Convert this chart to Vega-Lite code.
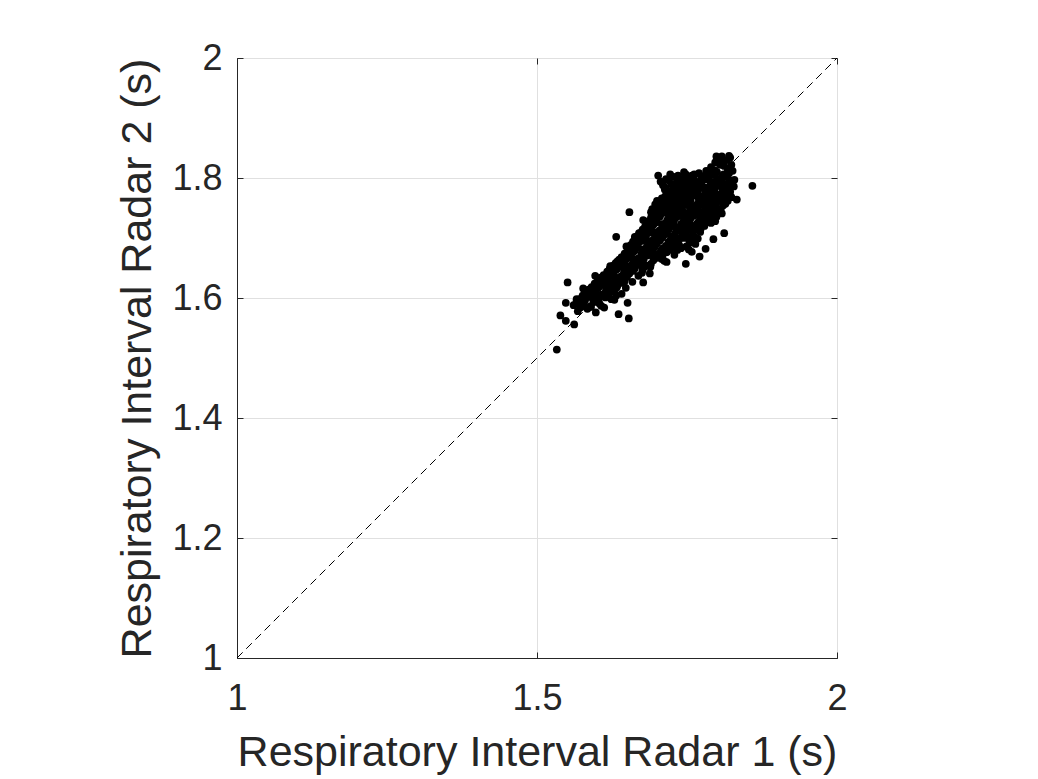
{
  "$schema": "https://vega.github.io/schema/vega-lite/v6.json",
  "width": 600,
  "height": 600,
  "autosize": {"type": "none"},
  "padding": {"left": 237, "top": 58, "right": 201, "bottom": 121},
  "background": "white",
  "config": {
    "view": {"stroke": "#262626", "strokeWidth": 1},
    "font": "Liberation Sans",
    "axis": {
      "domainColor": "#262626",
      "tickColor": "#262626",
      "labelColor": "#262626",
      "titleColor": "#262626",
      "gridColor": "#e0e0e0",
      "labelFont": "Liberation Sans",
      "titleFont": "Liberation Sans",
      "labelFontSize": 36,
      "titleFontSize": 43,
      "titleFontWeight": "normal",
      "labelFlush": false
    }
  },
  "datasets": {
    "pts": [
      {"r1":1.533,"r2":1.514},{"r1":1.539,"r2":1.571},{"r1":1.548,"r2":1.562},{"r1":1.562,"r2":1.556},{"r1":1.548,"r2":1.592},{"r1":1.551,"r2":1.626},{"r1":1.577,"r2":1.616},{"r1":1.566,"r2":1.598},{"r1":1.574,"r2":1.586},{"r1":1.594,"r2":1.608},{"r1":1.612,"r2":1.584},{"r1":1.636,"r2":1.573},{"r1":1.653,"r2":1.566},{"r1":1.651,"r2":1.592},{"r1":1.624,"r2":1.598},{"r1":1.597,"r2":1.637},{"r1":1.622,"r2":1.653},{"r1":1.632,"r2":1.702},{"r1":1.654,"r2":1.743},{"r1":1.677,"r2":1.626},{"r1":1.688,"r2":1.641},{"r1":1.712,"r2":1.662},{"r1":1.748,"r2":1.657},{"r1":1.734,"r2":1.68},{"r1":1.702,"r2":1.804},{"r1":1.748,"r2":1.806},{"r1":1.812,"r2":1.708},{"r1":1.794,"r2":1.698},{"r1":1.797,"r2":1.728},{"r1":1.808,"r2":1.741},{"r1":1.833,"r2":1.764},{"r1":1.859,"r2":1.787},{"r1":1.799,"r2":1.836},{"r1":1.82,"r2":1.837},{"r1":1.824,"r2":1.822},{"r1":1.777,"r2":1.803},{"r1":1.677,"r2":1.73},{"r1":1.699,"r2":1.748},{"r1":1.705,"r2":1.758},{"r1":1.663,"r2":1.702},{"r1":1.649,"r2":1.686},
      {"r1":1.80,"r2":1.832},{"r1":1.812,"r2":1.828},{"r1":1.822,"r2":1.834},{"r1":1.806,"r2":1.825},
      {"r1":1.79,"r2":1.818},{"r1":1.805,"r2":1.822},{"r1":1.818,"r2":1.815},{"r1":1.812,"r2":1.82},
      {"r1":1.77,"r2":1.808},{"r1":1.782,"r2":1.812},{"r1":1.792,"r2":1.806},{"r1":1.80,"r2":1.81},{"r1":1.815,"r2":1.805},{"r1":1.826,"r2":1.812},
      {"r1":1.715,"r2":1.798},{"r1":1.728,"r2":1.802},{"r1":1.738,"r2":1.796},{"r1":1.752,"r2":1.80},{"r1":1.762,"r2":1.797},{"r1":1.774,"r2":1.801},{"r1":1.788,"r2":1.795},{"r1":1.80,"r2":1.799},{"r1":1.81,"r2":1.802},{"r1":1.82,"r2":1.797},
      {"r1":1.71,"r2":1.788},{"r1":1.724,"r2":1.79},{"r1":1.736,"r2":1.786},{"r1":1.748,"r2":1.792},{"r1":1.763,"r2":1.789},{"r1":1.778,"r2":1.785},{"r1":1.79,"r2":1.791},{"r1":1.803,"r2":1.787},{"r1":1.816,"r2":1.79},{"r1":1.828,"r2":1.786},
      {"r1":1.718,"r2":1.778},{"r1":1.731,"r2":1.782},{"r1":1.742,"r2":1.776},{"r1":1.754,"r2":1.781},{"r1":1.762,"r2":1.777},{"r1":1.771,"r2":1.783},{"r1":1.784,"r2":1.776},{"r1":1.796,"r2":1.78},{"r1":1.808,"r2":1.775},{"r1":1.82,"r2":1.779},
      {"r1":1.714,"r2":1.77},{"r1":1.726,"r2":1.766},{"r1":1.739,"r2":1.772},{"r1":1.75,"r2":1.768},{"r1":1.761,"r2":1.771},{"r1":1.774,"r2":1.767},{"r1":1.789,"r2":1.772},{"r1":1.80,"r2":1.766},{"r1":1.81,"r2":1.77},{"r1":1.824,"r2":1.768},
      {"r1":1.70,"r2":1.762},{"r1":1.719,"r2":1.758},{"r1":1.733,"r2":1.761},{"r1":1.746,"r2":1.757},{"r1":1.756,"r2":1.763},{"r1":1.767,"r2":1.756},{"r1":1.779,"r2":1.76},{"r1":1.791,"r2":1.755},{"r1":1.80,"r2":1.761},{"r1":1.814,"r2":1.757},
      {"r1":1.692,"r2":1.748},{"r1":1.706,"r2":1.752},{"r1":1.72,"r2":1.746},{"r1":1.731,"r2":1.751},{"r1":1.742,"r2":1.747},{"r1":1.755,"r2":1.75},{"r1":1.769,"r2":1.746},{"r1":1.784,"r2":1.751},{"r1":1.795,"r2":1.745},{"r1":1.806,"r2":1.748},
      {"r1":1.695,"r2":1.738},{"r1":1.711,"r2":1.742},{"r1":1.724,"r2":1.736},{"r1":1.736,"r2":1.741},{"r1":1.749,"r2":1.737},{"r1":1.761,"r2":1.742},{"r1":1.774,"r2":1.736},{"r1":1.788,"r2":1.74},{"r1":1.799,"r2":1.735},
      {"r1":1.686,"r2":1.728},{"r1":1.70,"r2":1.732},{"r1":1.716,"r2":1.726},{"r1":1.729,"r2":1.731},{"r1":1.744,"r2":1.727},{"r1":1.756,"r2":1.733},{"r1":1.769,"r2":1.727},{"r1":1.781,"r2":1.731},{"r1":1.79,"r2":1.725},
      {"r1":1.68,"r2":1.719},{"r1":1.694,"r2":1.722},{"r1":1.709,"r2":1.716},{"r1":1.721,"r2":1.721},{"r1":1.736,"r2":1.717},{"r1":1.751,"r2":1.722},{"r1":1.765,"r2":1.715},{"r1":1.779,"r2":1.72},
      {"r1":1.67,"r2":1.708},{"r1":1.684,"r2":1.712},{"r1":1.70,"r2":1.706},{"r1":1.716,"r2":1.711},{"r1":1.73,"r2":1.707},{"r1":1.746,"r2":1.712},{"r1":1.76,"r2":1.706},{"r1":1.772,"r2":1.71},
      {"r1":1.664,"r2":1.698},{"r1":1.679,"r2":1.702},{"r1":1.694,"r2":1.697},{"r1":1.709,"r2":1.701},{"r1":1.722,"r2":1.696},{"r1":1.739,"r2":1.70},{"r1":1.754,"r2":1.695},{"r1":1.768,"r2":1.699},
      {"r1":1.656,"r2":1.688},{"r1":1.669,"r2":1.692},{"r1":1.684,"r2":1.686},{"r1":1.70,"r2":1.691},{"r1":1.715,"r2":1.687},{"r1":1.731,"r2":1.692},{"r1":1.749,"r2":1.686},{"r1":1.764,"r2":1.69},
      {"r1":1.651,"r2":1.678},{"r1":1.664,"r2":1.682},{"r1":1.678,"r2":1.677},{"r1":1.69,"r2":1.681},{"r1":1.706,"r2":1.676},{"r1":1.722,"r2":1.68},{"r1":1.758,"r2":1.677},{"r1":1.781,"r2":1.682},
      {"r1":1.641,"r2":1.668},{"r1":1.655,"r2":1.672},{"r1":1.669,"r2":1.666},{"r1":1.684,"r2":1.671},{"r1":1.70,"r2":1.667},{"r1":1.729,"r2":1.672},{"r1":1.771,"r2":1.669},
      {"r1":1.631,"r2":1.658},{"r1":1.646,"r2":1.662},{"r1":1.659,"r2":1.656},{"r1":1.674,"r2":1.661},{"r1":1.69,"r2":1.657},{"r1":1.716,"r2":1.66},
      {"r1":1.621,"r2":1.648},{"r1":1.636,"r2":1.652},{"r1":1.649,"r2":1.646},{"r1":1.661,"r2":1.651},{"r1":1.676,"r2":1.647},{"r1":1.689,"r2":1.652},
      {"r1":1.611,"r2":1.638},{"r1":1.626,"r2":1.642},{"r1":1.64,"r2":1.636},{"r1":1.654,"r2":1.641},{"r1":1.669,"r2":1.637},
      {"r1":1.601,"r2":1.628},{"r1":1.616,"r2":1.632},{"r1":1.629,"r2":1.626},{"r1":1.644,"r2":1.631},{"r1":1.659,"r2":1.627},
      {"r1":1.591,"r2":1.618},{"r1":1.606,"r2":1.622},{"r1":1.621,"r2":1.616},{"r1":1.634,"r2":1.621},{"r1":1.648,"r2":1.617},
      {"r1":1.581,"r2":1.608},{"r1":1.596,"r2":1.612},{"r1":1.609,"r2":1.606},{"r1":1.624,"r2":1.611},{"r1":1.641,"r2":1.607},
      {"r1":1.571,"r2":1.598},{"r1":1.586,"r2":1.602},{"r1":1.599,"r2":1.596},{"r1":1.614,"r2":1.601},{"r1":1.629,"r2":1.597},
      {"r1":1.561,"r2":1.588},{"r1":1.576,"r2":1.592},{"r1":1.589,"r2":1.586},{"r1":1.604,"r2":1.591},
      {"r1":1.568,"r2":1.578},{"r1":1.584,"r2":1.582},{"r1":1.598,"r2":1.576},
      {"r1":1.797,"r2":1.826},{"r1":1.816,"r2":1.83},{"r1":1.808,"r2":1.836},
      {"r1":1.722,"r2":1.806},{"r1":1.745,"r2":1.81},{"r1":1.758,"r2":1.804},{"r1":1.785,"r2":1.804},{"r1":1.795,"r2":1.813},{"r1":1.82,"r2":1.808},
      {"r1":1.706,"r2":1.794},{"r1":1.72,"r2":1.796},{"r1":1.733,"r2":1.793},{"r1":1.745,"r2":1.797},{"r1":1.757,"r2":1.794},{"r1":1.769,"r2":1.793},{"r1":1.782,"r2":1.798},{"r1":1.795,"r2":1.793},{"r1":1.808,"r2":1.795},{"r1":1.822,"r2":1.793},
      {"r1":1.714,"r2":1.784},{"r1":1.73,"r2":1.787},{"r1":1.744,"r2":1.783},{"r1":1.757,"r2":1.786},{"r1":1.77,"r2":1.789},{"r1":1.785,"r2":1.784},{"r1":1.797,"r2":1.786},{"r1":1.81,"r2":1.783},{"r1":1.823,"r2":1.785},
      {"r1":1.722,"r2":1.774},{"r1":1.735,"r2":1.776},{"r1":1.748,"r2":1.774},{"r1":1.758,"r2":1.776},{"r1":1.768,"r2":1.773},{"r1":1.78,"r2":1.775},{"r1":1.792,"r2":1.776},{"r1":1.804,"r2":1.772},{"r1":1.815,"r2":1.774},
      {"r1":1.708,"r2":1.766},{"r1":1.722,"r2":1.764},{"r1":1.735,"r2":1.766},{"r1":1.744,"r2":1.764},{"r1":1.756,"r2":1.767},{"r1":1.77,"r2":1.764},{"r1":1.783,"r2":1.765},{"r1":1.795,"r2":1.763},{"r1":1.806,"r2":1.765},{"r1":1.818,"r2":1.762},
      {"r1":1.697,"r2":1.756},{"r1":1.711,"r2":1.754},{"r1":1.726,"r2":1.755},{"r1":1.738,"r2":1.753},{"r1":1.75,"r2":1.755},{"r1":1.762,"r2":1.753},{"r1":1.774,"r2":1.755},{"r1":1.787,"r2":1.757},{"r1":1.798,"r2":1.752},{"r1":1.81,"r2":1.754},
      {"r1":1.69,"r2":1.743},{"r1":1.703,"r2":1.745},{"r1":1.716,"r2":1.743},{"r1":1.728,"r2":1.745},{"r1":1.739,"r2":1.744},{"r1":1.752,"r2":1.742},{"r1":1.764,"r2":1.745},{"r1":1.778,"r2":1.744},{"r1":1.79,"r2":1.743},{"r1":1.802,"r2":1.741},
      {"r1":1.69,"r2":1.734},{"r1":1.705,"r2":1.736},{"r1":1.72,"r2":1.734},{"r1":1.733,"r2":1.735},{"r1":1.746,"r2":1.733},{"r1":1.758,"r2":1.736},{"r1":1.772,"r2":1.733},{"r1":1.785,"r2":1.735},
      {"r1":1.682,"r2":1.724},{"r1":1.698,"r2":1.726},{"r1":1.712,"r2":1.723},{"r1":1.726,"r2":1.725},{"r1":1.74,"r2":1.723},{"r1":1.754,"r2":1.726},{"r1":1.766,"r2":1.723},{"r1":1.775,"r2":1.726},
      {"r1":1.676,"r2":1.714},{"r1":1.69,"r2":1.716},{"r1":1.705,"r2":1.713},{"r1":1.72,"r2":1.715},{"r1":1.734,"r2":1.713},{"r1":1.748,"r2":1.717},{"r1":1.762,"r2":1.713},
      {"r1":1.667,"r2":1.703},{"r1":1.682,"r2":1.705},{"r1":1.697,"r2":1.703},{"r1":1.712,"r2":1.706},{"r1":1.726,"r2":1.703},{"r1":1.742,"r2":1.705},{"r1":1.756,"r2":1.702},
      {"r1":1.66,"r2":1.694},{"r1":1.675,"r2":1.695},{"r1":1.69,"r2":1.693},{"r1":1.705,"r2":1.696},{"r1":1.719,"r2":1.693},{"r1":1.735,"r2":1.694},{"r1":1.758,"r2":1.693},
      {"r1":1.654,"r2":1.684},{"r1":1.668,"r2":1.686},{"r1":1.682,"r2":1.683},{"r1":1.696,"r2":1.685},{"r1":1.71,"r2":1.683},{"r1":1.726,"r2":1.686},{"r1":1.74,"r2":1.683},
      {"r1":1.646,"r2":1.674},{"r1":1.66,"r2":1.676},{"r1":1.674,"r2":1.673},{"r1":1.688,"r2":1.675},{"r1":1.702,"r2":1.673},{"r1":1.716,"r2":1.676},
      {"r1":1.637,"r2":1.664},{"r1":1.65,"r2":1.666},{"r1":1.664,"r2":1.663},{"r1":1.678,"r2":1.665},{"r1":1.694,"r2":1.663},{"r1":1.708,"r2":1.665},
      {"r1":1.627,"r2":1.654},{"r1":1.64,"r2":1.656},{"r1":1.654,"r2":1.653},{"r1":1.668,"r2":1.655},{"r1":1.682,"r2":1.654},
      {"r1":1.617,"r2":1.644},{"r1":1.63,"r2":1.646},{"r1":1.645,"r2":1.643},{"r1":1.66,"r2":1.645},{"r1":1.675,"r2":1.642},
      {"r1":1.606,"r2":1.634},{"r1":1.621,"r2":1.636},{"r1":1.636,"r2":1.633},{"r1":1.65,"r2":1.635},
      {"r1":1.596,"r2":1.624},{"r1":1.611,"r2":1.626},{"r1":1.625,"r2":1.623},{"r1":1.64,"r2":1.625},
      {"r1":1.586,"r2":1.614},{"r1":1.601,"r2":1.616},{"r1":1.615,"r2":1.613},{"r1":1.63,"r2":1.615},
      {"r1":1.576,"r2":1.604},{"r1":1.59,"r2":1.606},{"r1":1.604,"r2":1.603},{"r1":1.619,"r2":1.605},
      {"r1":1.566,"r2":1.594},{"r1":1.58,"r2":1.596},{"r1":1.594,"r2":1.593},
      {"r1":1.572,"r2":1.584},{"r1":1.59,"r2":1.585},
      {"r1":1.713,"r2":1.781},{"r1":1.727,"r2":1.773},{"r1":1.741,"r2":1.789},{"r1":1.753,"r2":1.769},{"r1":1.766,"r2":1.782},{"r1":1.779,"r2":1.768},{"r1":1.793,"r2":1.779},{"r1":1.806,"r2":1.791},{"r1":1.817,"r2":1.781},{"r1":1.829,"r2":1.797},
      {"r1":1.716,"r2":1.759},{"r1":1.729,"r2":1.749},{"r1":1.743,"r2":1.761},{"r1":1.758,"r2":1.744},{"r1":1.771,"r2":1.758},{"r1":1.786,"r2":1.747},{"r1":1.799,"r2":1.759},{"r1":1.812,"r2":1.767},
      {"r1":1.703,"r2":1.741},{"r1":1.718,"r2":1.731},{"r1":1.732,"r2":1.744},{"r1":1.747,"r2":1.729},{"r1":1.762,"r2":1.738},{"r1":1.777,"r2":1.726},{"r1":1.792,"r2":1.738},
      {"r1":1.688,"r2":1.721},{"r1":1.703,"r2":1.711},{"r1":1.717,"r2":1.729},{"r1":1.731,"r2":1.717},{"r1":1.745,"r2":1.733},{"r1":1.759,"r2":1.719},{"r1":1.773,"r2":1.716},{"r1":1.787,"r2":1.728},
      {"r1":1.674,"r2":1.701},{"r1":1.689,"r2":1.709},{"r1":1.703,"r2":1.698},{"r1":1.717,"r2":1.707},{"r1":1.733,"r2":1.699},{"r1":1.748,"r2":1.709},{"r1":1.763,"r2":1.701},
      {"r1":1.662,"r2":1.689},{"r1":1.677,"r2":1.681},{"r1":1.692,"r2":1.689},{"r1":1.707,"r2":1.68},{"r1":1.722,"r2":1.691},{"r1":1.737,"r2":1.688},{"r1":1.753,"r2":1.681},
      {"r1":1.648,"r2":1.671},{"r1":1.663,"r2":1.679},{"r1":1.678,"r2":1.669},{"r1":1.693,"r2":1.679},{"r1":1.709,"r2":1.671},
      {"r1":1.634,"r2":1.661},{"r1":1.649,"r2":1.651},{"r1":1.663,"r2":1.659},{"r1":1.679,"r2":1.652},{"r1":1.695,"r2":1.668},
      {"r1":1.619,"r2":1.639},{"r1":1.633,"r2":1.648},{"r1":1.648,"r2":1.638},{"r1":1.663,"r2":1.649},
      {"r1":1.604,"r2":1.619},{"r1":1.618,"r2":1.629},{"r1":1.633,"r2":1.618},{"r1":1.646,"r2":1.628},
      {"r1":1.589,"r2":1.609},{"r1":1.603,"r2":1.599},{"r1":1.617,"r2":1.609},{"r1":1.632,"r2":1.604},
      {"r1":1.578,"r2":1.589},{"r1":1.593,"r2":1.599},{"r1":1.607,"r2":1.587},
      {"r1":1.735,"r2":1.804},{"r1":1.762,"r2":1.806},{"r1":1.787,"r2":1.809},{"r1":1.757,"r2":1.789},{"r1":1.775,"r2":1.795},{"r1":1.741,"r2":1.779},{"r1":1.786,"r2":1.762},{"r1":1.799,"r2":1.772},{"r1":1.81,"r2":1.761},{"r1":1.765,"r2":1.75},{"r1":1.752,"r2":1.763},{"r1":1.738,"r2":1.766},
      {"r1":1.672,"r2":1.708},{"r1":1.683,"r2":1.718},{"r1":1.694,"r2":1.729},{"r1":1.706,"r2":1.741},{"r1":1.717,"r2":1.752},{"r1":1.728,"r2":1.763},{"r1":1.739,"r2":1.774},{"r1":1.75,"r2":1.786},{"r1":1.761,"r2":1.796},
      {"r1":1.682,"r2":1.697},{"r1":1.695,"r2":1.71},{"r1":1.708,"r2":1.723},{"r1":1.721,"r2":1.737},{"r1":1.734,"r2":1.749},{"r1":1.747,"r2":1.762},{"r1":1.76,"r2":1.775},{"r1":1.773,"r2":1.788},{"r1":1.786,"r2":1.801},{"r1":1.797,"r2":1.812},
      {"r1":1.70,"r2":1.695},{"r1":1.714,"r2":1.709},{"r1":1.728,"r2":1.723},{"r1":1.742,"r2":1.737},{"r1":1.756,"r2":1.751},{"r1":1.77,"r2":1.765},{"r1":1.784,"r2":1.779},{"r1":1.798,"r2":1.793},{"r1":1.811,"r2":1.806},
      {"r1":1.725,"r2":1.70},{"r1":1.739,"r2":1.714},{"r1":1.753,"r2":1.728},{"r1":1.767,"r2":1.742},{"r1":1.781,"r2":1.756},{"r1":1.795,"r2":1.77},{"r1":1.809,"r2":1.784},{"r1":1.821,"r2":1.796},
      {"r1":1.745,"r2":1.70},{"r1":1.758,"r2":1.713},{"r1":1.771,"r2":1.726},{"r1":1.784,"r2":1.739},{"r1":1.797,"r2":1.752},{"r1":1.81,"r2":1.765},{"r1":1.822,"r2":1.777},
      {"r1":1.70,"r2":1.755},{"r1":1.712,"r2":1.767},{"r1":1.724,"r2":1.779},{"r1":1.736,"r2":1.791},{"r1":1.745,"r2":1.80},
      {"r1":1.59,"r2":1.615},{"r1":1.605,"r2":1.63},{"r1":1.62,"r2":1.645},{"r1":1.635,"r2":1.66},{"r1":1.65,"r2":1.675},{"r1":1.665,"r2":1.69},
      {"r1":1.60,"r2":1.605},{"r1":1.615,"r2":1.62},{"r1":1.63,"r2":1.635},{"r1":1.645,"r2":1.65},{"r1":1.66,"r2":1.665},{"r1":1.675,"r2":1.68},{"r1":1.69,"r2":1.695}
    ],
    "diag": [{"r1": 1, "r2": 1}, {"r1": 2, "r2": 2}]
  },
  "layer": [
    {
      "data": {"name": "diag"},
      "mark": {"type": "line", "color": "#000000", "strokeWidth": 1, "strokeDash": [8, 5], "clip": true},
      "encoding": {
        "x": {
          "field": "r1", "type": "quantitative",
          "scale": {"domain": [1, 2], "nice": false, "zero": false},
          "axis": {
            "values": [1, 1.5, 2],
            "labelExpr": "'' + datum.value",
            "grid": true,
            "tickSize": -6,
            "labelPadding": 29,
            "title": "Respiratory Interval Radar 1 (s)",
            "titleX": 300,
            "titleY": 107,
            "titleBaseline": "alphabetic",
            "titleAnchor": "middle"
          }
        },
        "y": {
          "field": "r2", "type": "quantitative",
          "scale": {"domain": [1, 2], "nice": false, "zero": false},
          "axis": {
            "values": [1, 1.2, 1.4, 1.6, 1.8, 2],
            "labelExpr": "'' + datum.value",
            "grid": true,
            "tickSize": -6,
            "labelPadding": 21,
            "title": "Respiratory Interval Radar 2 (s)",
            "titleX": -87,
            "titleY": 300,
            "titleBaseline": "alphabetic",
            "titleAnchor": "middle"
          }
        }
      }
    },
    {
      "data": {"name": "pts"},
      "mark": {"type": "circle", "color": "#000000", "opacity": 1, "size": 60},
      "encoding": {
        "x": {"field": "r1", "type": "quantitative", "axis": {"orient": "top", "values": [1, 1.5, 2], "labels": false, "grid": false, "tickSize": -6, "title": null, "domain": false}},
        "y": {"field": "r2", "type": "quantitative", "axis": {"orient": "right", "values": [1, 1.2, 1.4, 1.6, 1.8, 2], "labels": false, "grid": false, "tickSize": -6, "title": null, "domain": false}}
      }
    }
  ],
  "resolve": {"axis": {"x": "independent", "y": "independent"}}
}
